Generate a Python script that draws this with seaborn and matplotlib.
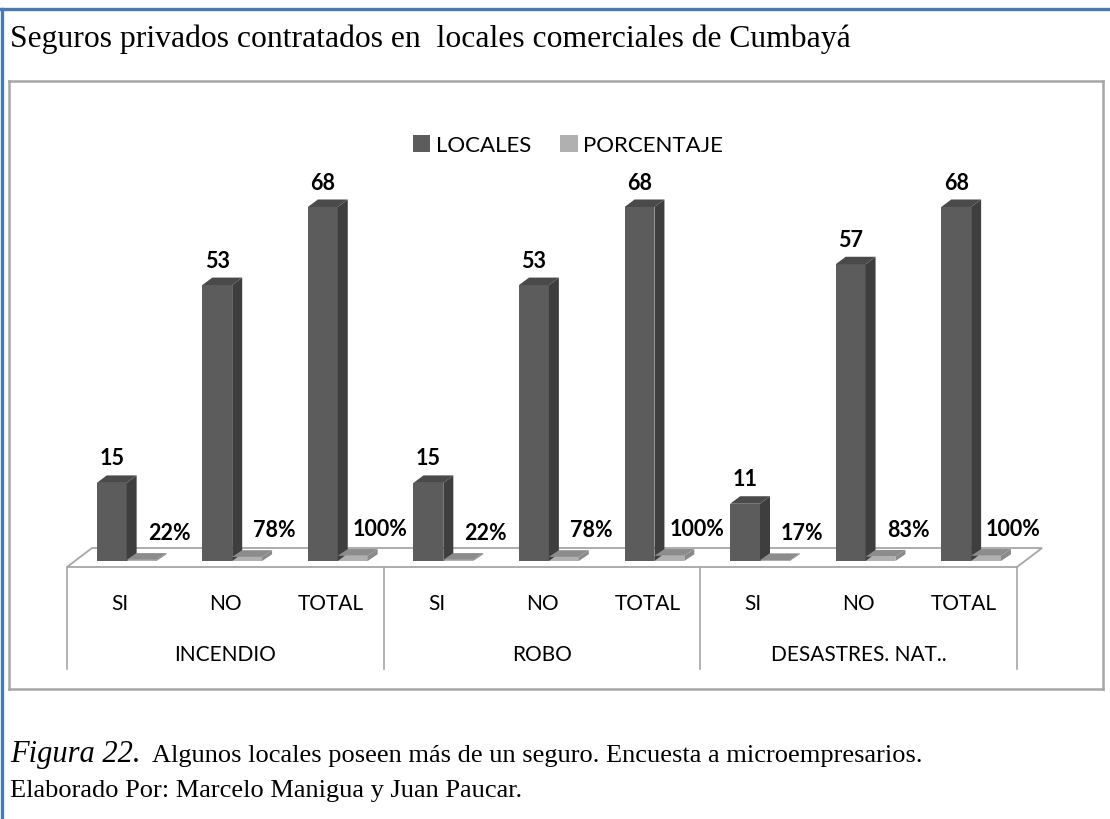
import matplotlib
matplotlib.use("Agg")
import matplotlib.pyplot as plt
from matplotlib.patches import Polygon
from matplotlib.lines import Line2D
import numpy as np
import pandas as pd
import seaborn as sns

# datos
grupos = ["INCENDIO", "ROBO", "DESASTRES. NAT.."]
respuestas = ["SI", "NO", "TOTAL"]
locales = [15, 53, 68, 15, 53, 68, 11, 57, 68]
porcentaje = [0.22, 0.78, 1.00, 0.22, 0.78, 1.00, 0.17, 0.83, 1.00]
etiquetas_pct = ["22%", "78%", "100%", "22%", "78%", "100%", "17%", "83%", "100%"]
series = ["LOCALES", "PORCENTAJE"]

cats = [g + "-" + r for g in grupos for r in respuestas]
df = pd.DataFrame({
    "cat": cats * 2,
    "valor": locales + porcentaje,
    "serie": [series[0]] * 9 + [series[1]] * 9,
})

W, H = 1110, 820
fig = plt.figure(figsize=(W / 100, H / 100), dpi=100)
fig.patch.set_facecolor("white")

# marco azul exterior
fig.add_artist(Line2D([0, 1], [1 - 10 / H, 1 - 10 / H], color="#4a7bb0", lw=2.4))
fig.add_artist(Line2D([2 / W, 2 / W], [0, 1 - 10 / H], color="#4a7bb0", lw=2.4))

fig.text(10 / W, 1 - 47 / H, "Seguros privados contratados en  locales comerciales de Cumbayá",
         family="Liberation Serif", fontsize=22.8, va="baseline", ha="left")

# caja del grafico (px): 9..1103 x 82..690
bx0, bx1, by0, by1 = 9, 1103, 82, 690
ax = fig.add_axes([bx0 / W, 1 - by1 / H, (bx1 - bx0) / W, (by1 - by0) / H])

oscuro, claro = "#5c5c5c", "#b0b0b0"
sns.barplot(data=df, x="cat", y="valor", hue="serie", order=cats, hue_order=series,
            palette=[oscuro, claro], width=0.566, errorbar=None, ax=ax,
            linewidth=0, saturation=1)

# escalas: x=-0.5 -> px 67, paso 105.56 px ; y=0 -> px 562, 5.206 px por unidad
px_x = 105.56
px_y = 5.206
def to_x(px):
    return -0.5 + (px - 67) / px_x
def to_y(py):
    return (562 - py) / px_y

ax.set_xlim(to_x(bx0), to_x(bx1))
ax.set_ylim(to_y(by1), to_y(by0))
ax.set_xticks([])
ax.set_yticks([])
ax.set_xlabel("")
ax.set_ylabel("")
for s in ax.spines.values():
    s.set_color("#a6a6a6")
    s.set_linewidth(1.8)

# piso en perspectiva
f_front = to_y(568)
fdx, fdy = 25 / px_x, 19 / px_y
piso = Polygon([(-0.5, f_front), (8.5, f_front), (8.5 + fdx, f_front + fdy), (-0.5 + fdx, f_front + fdy)],
               closed=True, facecolor="white", edgecolor="#a6a6a6", lw=1.3, zorder=0.5)
ax.add_patch(piso)

# separadores de grupo
y_sep = to_y(670)
for xs in [-0.5, 2.5, 5.5, 8.5]:
    ax.plot([xs, xs], [f_front, y_sep], color="#a6a6a6", lw=1.2, zorder=1)

# efecto 3D sobre las barras
dx, dy = 10 / px_x, 7.5 / px_y
shift = 0.065
colores_lado = {0: ("#3e3e3e", "#4a4a4a"), 1: ("#8a8a8a", "#8c8c8c")}
for k, cont in enumerate(ax.containers):
    for bar in cont:
        bar.set_x(bar.get_x() + shift)
        bar.set_zorder(3)
        x0 = bar.get_x()
        x1 = x0 + bar.get_width()
        h = bar.get_height()
        lado, tapa = colores_lado[k]
        if k == 1:
            dyy = dy * 0.9
        else:
            dyy = dy
        ax.add_patch(Polygon([(x1, 0), (x1 + dx, dyy), (x1 + dx, h + dyy), (x1, h)],
                             closed=True, facecolor=lado, lw=0, zorder=3))
        ax.add_patch(Polygon([(x0, h), (x0 + dx, h + dyy), (x1 + dx, h + dyy), (x1, h)],
                             closed=True, facecolor=tapa, lw=0, zorder=3))

# etiquetas de valores
for bar, v in zip(ax.containers[0], locales):
    ax.text(bar.get_x() + bar.get_width() / 2, v + 4.8, str(v), ha="center", va="center",
            family="Lato", fontweight="bold", fontsize=15.5, zorder=5)
for bar, v, t in zip(ax.containers[1], porcentaje, etiquetas_pct):
    ax.text(bar.get_x() + bar.get_width() / 2 + 0.26, v + 5.3, t, ha="center", va="center",
            family="Lato", fontweight="bold", fontsize=15.5, zorder=5)

# etiquetas de categorias
for i, c in enumerate(cats):
    ax.text(i, to_y(604), c.split("-")[1], ha="center", va="center", family="Lato", fontsize=15)
for j, g in enumerate(grupos):
    ax.text(3 * j + 1, to_y(655), g, ha="center", va="center", family="Lato", fontsize=15)

sns.move_legend(ax, "center", bbox_to_anchor=((568 - bx0) / (bx1 - bx0), (by1 - 146) / (by1 - by0)),
                ncol=2, title=None, frameon=False, handlelength=0.8, handleheight=0.8,
                handletextpad=0.25, columnspacing=1.3, prop={"family": "Lato", "size": 16})

# pie de figura
fig.text(10 / W, 1 - 762 / H, "Figura 22.", family="Liberation Serif", style="italic",
         fontsize=22, va="baseline", ha="left")
fig.text(152 / W, 1 - 762 / H, "Algunos locales poseen más de un seguro. Encuesta a microempresarios.",
         family="Liberation Serif", fontsize=19, va="baseline", ha="left")
fig.text(10 / W, 1 - 797 / H, "Elaborado Por: Marcelo Manigua y Juan Paucar.",
         family="Liberation Serif", fontsize=19, va="baseline", ha="left")

fig.savefig("out.png", dpi=100)
